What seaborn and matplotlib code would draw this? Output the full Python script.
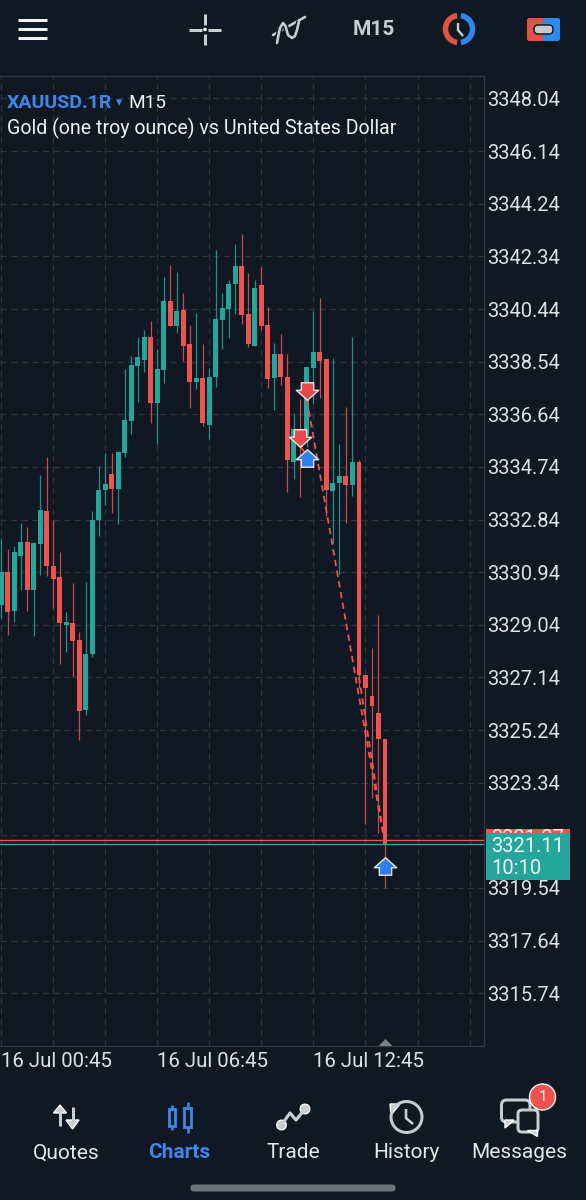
import numpy as np
import pandas as pd
import seaborn as sns
import matplotlib.pyplot as plt
from matplotlib.path import Path
from matplotlib.patches import FancyBboxPatch, Polygon, Circle, Rectangle

BG = "#0f1823"
UP = "#26a69a"
DOWN = "#ef5350"
BLUE = "#3f87e8"
TXT = "#dfe2e5"
ICON = "#c9ccd0"

# M15 candles
opens = [3329.76, 3330.93, 3329.54, 3331.53, 3332.02, 3330.28, 3331.96, 3333.15, 3331.16, 3330.75,
         3329.05, 3329.10, 3328.50, 3325.97, 3327.98, 3332.82, 3333.91, 3334.48, 3333.94, 3335.24,
         3336.40, 3338.39, 3338.60, 3339.42, 3337.06, 3338.24, 3340.74, 3339.83, 3340.40, 3339.17,
         3337.80, 3337.95, 3336.26, 3338.00, 3340.05, 3340.43, 3341.35, 3342.00, 3340.26, 3339.12,
         3341.30, 3339.87, 3337.94, 3338.81, 3337.98, 3334.93, 3336.11, 3335.87, 3338.30, 3338.90,
         3338.63, 3333.87, 3334.17, 3334.42, 3334.07, 3334.90, 3327.23, 3326.47, 3325.87, 3324.91]
closes = [3330.93, 3329.51, 3331.65, 3332.02, 3330.31, 3332.00, 3333.20, 3331.16, 3330.71, 3329.10,
          3329.15, 3328.45, 3325.94, 3327.98, 3332.83, 3333.90, 3334.13, 3333.95, 3335.27, 3336.43,
          3338.42, 3338.72, 3339.42, 3337.06, 3338.27, 3340.72, 3339.84, 3340.38, 3339.10, 3337.81,
          3337.94, 3336.32, 3338.00, 3340.08, 3340.47, 3341.35, 3342.00, 3340.22, 3339.18, 3341.21,
          3339.83, 3337.93, 3338.81, 3337.97, 3334.99, 3336.11, 3335.46, 3338.33, 3338.90, 3338.58,
          3333.89, 3334.17, 3334.42, 3334.10, 3334.90, 3327.21, 3326.75, 3326.11, 3324.90, 3321.10]
highs = [3332.18, 3331.78, 3331.89, 3332.73, 3332.58, 3332.04, 3334.43, 3335.09, 3332.82, 3331.66,
         3329.50, 3330.54, 3328.78, 3330.60, 3333.16, 3334.77, 3335.24, 3335.24, 3335.28, 3338.27,
         3338.76, 3339.43, 3339.69, 3340.00, 3339.01, 3341.61, 3342.03, 3341.77, 3341.01, 3339.88,
         3340.28, 3339.16, 3338.32, 3342.57, 3341.01, 3341.47, 3342.80, 3343.14, 3341.73, 3341.47,
         3341.97, 3340.53, 3339.22, 3339.55, 3338.82, 3336.68, 3337.20, 3338.33, 3340.38, 3340.83,
         3338.63, 3338.67, 3335.57, 3336.90, 3339.42, 3334.99, 3327.23, 3328.20, 3329.40, 3324.91]
lows = [3329.29, 3328.68, 3329.15, 3330.30, 3329.55, 3328.65, 3330.82, 3330.81, 3329.63, 3327.64,
        3328.07, 3327.14, 3324.88, 3325.79, 3327.89, 3332.25, 3333.37, 3333.07, 3332.67, 3335.09,
        3335.92, 3337.10, 3338.16, 3336.32, 3335.57, 3337.78, 3339.83, 3339.59, 3338.58, 3336.87,
        3337.55, 3336.22, 3335.76, 3337.64, 3338.99, 3339.41, 3340.25, 3339.90, 3339.06, 3339.12,
        3339.69, 3337.58, 3336.79, 3337.68, 3333.85, 3334.31, 3333.65, 3335.47, 3337.04, 3337.22,
        3332.95, 3331.99, 3330.88, 3332.71, 3333.70, 3326.76, 3321.85, 3322.78, 3321.53, 3319.54]

price_ticks = [3348.04, 3346.14, 3344.24, 3342.34, 3340.44, 3338.54, 3336.64, 3334.74, 3332.84,
               3330.94, 3329.04, 3327.14, 3325.24, 3323.34, 3321.44, 3319.54, 3317.64, 3315.74]
price_labels = ["3348.04", "3346.14", "3344.24", "3342.34", "3340.44", "3338.54", "3336.64", "3334.74", "3332.84",
                "3330.94", "3329.04", "3327.14", "3325.24", "3323.34", "", "3319.54", "3317.64", "3315.74"]
time_ticks = [0, 8, 16, 24, 32, 40, 48, 56, 64, 72]
time_labels = ["16 Jul 00:45", "", "", "16 Jul 06:45", "", "", "16 Jul 12:45", "", "", ""]

sell_idx = [47, 46]
sell_price = [3337.48, 3335.79]
buy_idx = [47, 59]
buy_price = [3335.07, 3320.34]

trade_id = ["a", "a", "b", "b", "c", "c"]
trade_idx = [47, 59, 46, 47, 55, 59]
trade_price = [3337.16, 3321.10, 3335.46, 3335.17, 3327.16, 3321.10]

bid = 3321.11
ask = 3321.27

sns.set_theme(style="dark", rc={
    "figure.facecolor": BG,
    "axes.facecolor": BG,
    "axes.edgecolor": "#2f3945",
    "axes.linewidth": 0.9,
    "axes.grid": True,
    "grid.color": "#2d343c",
    "grid.linewidth": 0.9,
    "grid.linestyle": (0, (5, 3.5)),
})
plt.rcParams["font.family"] = ["Roboto", "DejaVu Sans"]

df = pd.DataFrame({"idx": range(len(opens)), "open": opens, "close": closes, "high": highs, "low": lows})
df["body"] = (df["close"] - df["open"]).abs()
df["base"] = df[["open", "close"]].min(axis=1)
df["dir"] = np.where(df["close"] >= df["open"], "up", "down")

fig = plt.figure(figsize=(5.86, 12), dpi=100)
ax = fig.add_axes([0, 154 / 1200, 484 / 586, 970 / 1200])
ax.set_axisbelow(True)

# wicks then bodies
for d, col in [("up", UP), ("down", DOWN)]:
    sub = df[df["dir"] == d]
    ax.vlines(sub["idx"], sub["low"], sub["high"], color=col, lw=0.9, alpha=0.85, zorder=2)
    sns.barplot(data=sub, x="idx", y="body", bottom=sub["base"].values, native_scale=True, color=col,
                saturation=1, width=0.76, linewidth=0, errorbar=None, ax=ax, zorder=3)

trades = pd.DataFrame({"id": trade_id, "idx": trade_idx, "price": trade_price})
sns.lineplot(data=trades, x="idx", y="price", units="id", estimator=None, color=DOWN, lw=1.3,
             linestyle=(0, (3.5, 2.5)), ax=ax, zorder=4)

ax.axhline(ask, color=DOWN, lw=1.0, zorder=4)
ax.axhline(bid, color=UP, lw=1.0, zorder=4)

down_arrow = Path([(-0.55, 0.11), (-0.55, 0.78), (0.55, 0.78), (0.55, 0.11), (1, 0.11), (0, -0.78), (-1, 0.11), (-0.55, 0.11)], closed=True)
up_arrow = Path([(-0.55, -0.11), (-0.55, -0.78), (0.55, -0.78), (0.55, -0.11), (1, -0.11), (0, 0.78), (-1, -0.11), (-0.55, -0.11)], closed=True)
sns.scatterplot(x=sell_idx, y=sell_price, marker=down_arrow, s=260, color="#e8484a", edgecolor="#e6e6e6",
                linewidth=1.0, ax=ax, zorder=5)
sns.scatterplot(x=buy_idx, y=buy_price, marker=up_arrow, s=260, color="#2f7ff0", edgecolor="#e6e6e6",
                linewidth=1.0, ax=ax, zorder=5)

ax.set_xlim(-0.184, 74.22)
ax.set_ylim(3313.834, 3348.852)
ax.set_xlabel("")
ax.set_ylabel("")
ax.set_xticks(time_ticks)
ax.set_xticklabels(time_labels, ha="left", color=TXT, fontsize=14.7)
ax.yaxis.tick_right()
ax.set_yticks(price_ticks)
ax.set_yticklabels(price_labels, color=TXT, fontsize=14.5)
ax.tick_params(axis="both", length=0)
ax.tick_params(axis="y", pad=2)
ax.tick_params(axis="x", pad=4)
for s in ax.spines.values():
    s.set_visible(True)
ax.spines["left"].set_visible(False)

# screen furniture in pixel coordinates
ui = fig.add_axes([0, 0, 1, 1], facecolor="none")
ui.set_xlim(0, 586)
ui.set_ylim(1200, 0)
ui.axis("off")
ui.grid(False)


def seg(xs, ys, col=ICON, w=3.0, cap="butt"):
    ui.plot(xs, ys, color=col, lw=w * 0.72, solid_capstyle=cap, solid_joinstyle="round")


def arc(cx, cy, r, a0, a1, col=ICON, w=3.0, cap="butt"):
    t = np.radians(np.linspace(a0, a1, 50))
    seg(cx + r * np.cos(t), cy - r * np.sin(t), col, w, cap)


def rbox(x, y, w, h, r, fc="none", ec="none", lw=0):
    ui.add_patch(FancyBboxPatch((x + r, y + r), w - 2 * r, h - 2 * r, boxstyle=f"round,pad={r}",
                                fc=fc, ec=ec, lw=lw * 0.72))


# top bar
for yy in (20, 29, 38):
    seg([18, 47], [yy, yy], "#f2f2f2", 3)
seg([189, 202], [29.5, 29.5]); seg([208, 221], [29.5, 29.5])
seg([205, 205], [14, 25]); seg([205, 205], [34, 45])
ui.add_patch(Circle((205, 29.5), 1.1, fc=ICON))
seg([273, 305], [35, 17], ICON, 2.6, "round")
xw = np.array([277, 278.5, 280, 283, 285.5, 288, 292, 295, 297, 299])
yw = np.array([43, 35, 28, 23, 26, 35, 38, 36, 30, 21])
seg(xw, yw, BG, 5.5)
seg(xw, yw, ICON, 2.6, "round")
ui.text(374, 29.5, "M15", color=ICON, fontsize=15, fontweight="bold", ha="center", va="center")
arc(459, 29, 13.5, 98, 262, "#e0533f", 5.5)
arc(459, 29, 13.5, -82, 82, "#2f86ee", 5.5)
seg([458, 458, 463], [23, 30, 36], ICON, 2.4)
rbox(527, 18, 18, 23, 2.5, fc="#df5442")
rbox(543, 18, 17, 23, 2.5, fc="#2f8aee")
rbox(534, 25, 19, 9, 4, fc="#c3c9ce", ec=BG, lw=1.5)

# symbol header
ui.text(7, 103.5, "XAUUSD.1R", color=BLUE, fontsize=14, fontweight="bold", va="center")
ui.text(119, 103, "▾", color=BLUE, fontsize=9, va="center", ha="center", family=["DejaVu Sans"])
ui.text(128, 103.5, "M15", color="#f0f0f0", fontsize=13.7, va="center")
ui.text(7, 128, "Gold (one troy ounce) vs United States Dollar", color="#f0f0f0", fontsize=14.1, va="center")

# price labels
ui.add_patch(Rectangle((486, 829), 84, 12, fc=DOWN, ec="none", zorder=3))
ui.text(491, 839, f"{ask:.2f}", color="#f0f0f0", fontsize=14.5, va="center", zorder=3.5)
ui.add_patch(Rectangle((486, 833), 84, 46.5, fc=UP, ec="none", zorder=4))
ui.text(491.5, 846.5, f"{bid:.2f}", color="#eef4f4", fontsize=14.5, va="center", zorder=5)
ui.text(491.5, 869, "10:10", color="#eef4f4", fontsize=14.5, va="center", zorder=5)

# scroll handle
ui.add_patch(Polygon([(378.5, 1046), (392.5, 1046), (385.5, 1039)], fc="#7b8086", ec="none"))

# bottom nav
nav_labels = ["Quotes", "Charts", "Trade", "History", "Messages"]
nav_x = [66, 179.5, 293.5, 406, 519]
for lab, xx in zip(nav_labels, nav_x):
    on = lab == "Charts"
    ui.text(xx, 1153, lab, color=BLUE if on else "#e6e8ea", fontsize=15, fontweight="bold" if on else "normal",
            ha="center", va="center")

seg([60, 60], [1108, 1126], ICON, 3)
ui.add_patch(Polygon([(53.5, 1113), (60, 1105), (66.5, 1113)], fc=ICON))
seg([72.5, 72.5], [1107, 1124], ICON, 3)
ui.add_patch(Polygon([(66, 1120), (72.5, 1129), (79, 1120)], fc=ICON))

for cx, y0, y1, b0, b1 in [(172, 1105, 1130, 1109, 1126), (187.5, 1102, 1133, 1108, 1127)]:
    seg([cx, cx], [y0, y1], BLUE, 2.6)
    ui.add_patch(Rectangle((cx - 3.2, b0), 6.4, b1 - b0, fc=BG, ec=BLUE, lw=2.0, zorder=3))

seg([281.5, 290, 296, 305], [1125, 1113, 1120, 1109], ICON, 3.2)
ui.add_patch(Circle((281.5, 1125), 4.8, fc=ICON))
ui.add_patch(Circle((305, 1109), 4.8, fc=ICON))

arc(406.5, 1117, 15.5, -205, 145, ICON, 3)
ui.add_patch(Polygon([(390, 1104), (400, 1104), (391, 1115)], fc=ICON))
seg([406, 406, 413], [1109, 1118, 1124], ICON, 2.6)

rbox(501.5, 1100, 28.5, 22, 5, ec=ICON, lw=3)
ui.add_patch(Polygon([(505, 1120), (514, 1120), (505, 1128)], fc=ICON))
rbox(518, 1110, 20, 22, 4, fc=BG, ec=ICON, lw=3)
ui.add_patch(Polygon([(527, 1130), (537, 1130), (537, 1136)], fc=ICON))
ui.add_patch(Circle((542.5, 1097), 13, fc=DOWN, zorder=4))
ui.text(542.5, 1097, "1", color="#f5f5f5", fontsize=11, ha="center", va="center", zorder=5)

rbox(190.5, 1184.5, 205, 7, 3.4, fc="#6d7379")

fig.savefig("out.png", dpi=100, facecolor=BG)
